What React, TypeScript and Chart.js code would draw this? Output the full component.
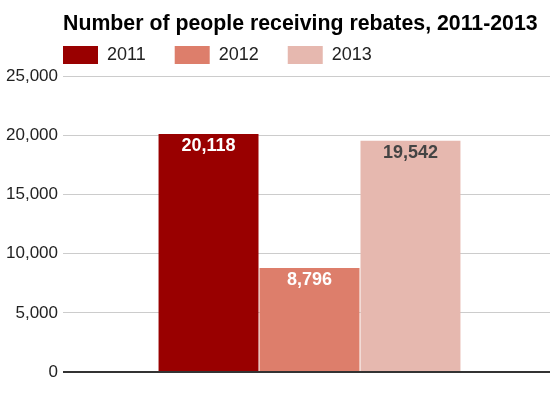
import React, { useEffect, useRef } from "react";
import { Chart, registerables } from "chart.js";

Chart.register(...registerables);

const categories = [""];
const seriesNames = ["2011", "2012", "2013"];
const values2011 = [20118];
const values2012 = [8796];
const values2013 = [19542];
const yTicks = [0, 5000, 10000, 15000, 20000, 25000];
const titleText = "Number of people receiving rebates, 2011-2013";

const colors = ["#990000", "#dd7e6b", "#e6b8af"];
const labelColors = ["#ffffff", "#ffffff", "#444444"];
const FONT = "'Liberation Sans', Arial, sans-serif";

const fmt = (v: number) => v.toLocaleString("en-US");

const positionPlugin = {
  id: "positionTweaks",
  afterLayout(chart: any) {
    const t = chart.titleBlock;
    if (t) {
      const h = t.bottom - t.top;
      t.left = 63;
      t.right = 553;
      t.top = 23.7 - h / 2;
      t.bottom = t.top + h;
    }
    const lg = chart.legend;
    if (lg) {
      const pad = lg.options.labels.padding;
      const w = lg.right - lg.left;
      const h = lg.bottom - lg.top;
      lg.left = 63 - pad;
      lg.right = lg.left + w;
      lg.top = 46 - pad;
      lg.bottom = lg.top + h;
    }
    const xs = chart.scales.x;
    if (xs) {
      xs.left += 3;
      xs.right += 3;
      xs.configure();
    }
  },
};

const valueLabelPlugin = {
  id: "valueLabels",
  afterDatasetsDraw(chart: any) {
    const ctx = chart.ctx;
    ctx.save();
    ctx.font = `bold 18px ${FONT}`;
    ctx.textAlign = "center";
    ctx.textBaseline = "middle";
    chart.data.datasets.forEach((ds: any, i: number) => {
      const meta = chart.getDatasetMeta(i);
      meta.data.forEach((bar: any, j: number) => {
        ctx.fillStyle = labelColors[i];
        ctx.fillText(fmt(ds.data[j]), bar.x, bar.y + 12);
      });
    });
    ctx.restore();
  },
};

export default function App() {
  const ref = useRef<HTMLCanvasElement | null>(null);
  useEffect(() => {
    if (!ref.current) return;
    const chart = new Chart(ref.current, {
      type: "bar",
      data: {
        labels: categories,
        datasets: [values2011, values2012, values2013].map((d, i) => ({
          label: seriesNames[i],
          data: d,
          backgroundColor: colors[i],
          borderWidth: 0,
          categoryPercentage: 0.622,
          barPercentage: 0.99,
        })),
      },
      options: {
        animation: false,
        responsive: false,
        maintainAspectRatio: false,
        layout: { padding: { left: 0, right: 3, top: 0, bottom: 26 } },
        plugins: {
          title: {
            display: true,
            text: titleText,
            align: "start",
            color: "#000000",
            font: { family: FONT, size: 21.3, weight: "bold", lineHeight: 0.9 },
            padding: { top: 0, bottom: 0 },
          },
          legend: {
            display: true,
            align: "start",
            labels: {
              boxWidth: 35,
              boxHeight: 18,
              padding: 29,
              color: "#222222",
              font: { family: FONT, size: 18 },
            },
          },
          tooltip: { enabled: false },
        },
        scales: {
          x: {
            display: false,
          },
          y: {
            min: 0,
            max: 25000,
            afterBuildTicks: (scale: any) => {
              scale.ticks = yTicks.map((v) => ({ value: v }));
            },
            afterFit: (scale: any) => {
              scale.width = 63;
            },
            border: { display: false },
            grid: {
              drawTicks: false,
              color: (c: any) => (c.tick && c.tick.value === 0 ? "#333333" : "#cccccc"),
              lineWidth: (c: any) => (c.tick && c.tick.value === 0 ? 2 : 1),
            },
            ticks: {
              padding: 5,
              color: "#222222",
              font: { family: FONT, size: 17 },
              callback: (v: any) => fmt(Number(v)),
            },
          },
        },
      },
      plugins: [positionPlugin, valueLabelPlugin],
    });
    return () => chart.destroy();
  }, []);
  return (
    <div style={{ position: "absolute", left: 0, top: 0, width: 553, height: 398, background: "#fff" }}>
      <canvas ref={ref} width={553} height={398} style={{ display: "block" }} />
    </div>
  );
}
